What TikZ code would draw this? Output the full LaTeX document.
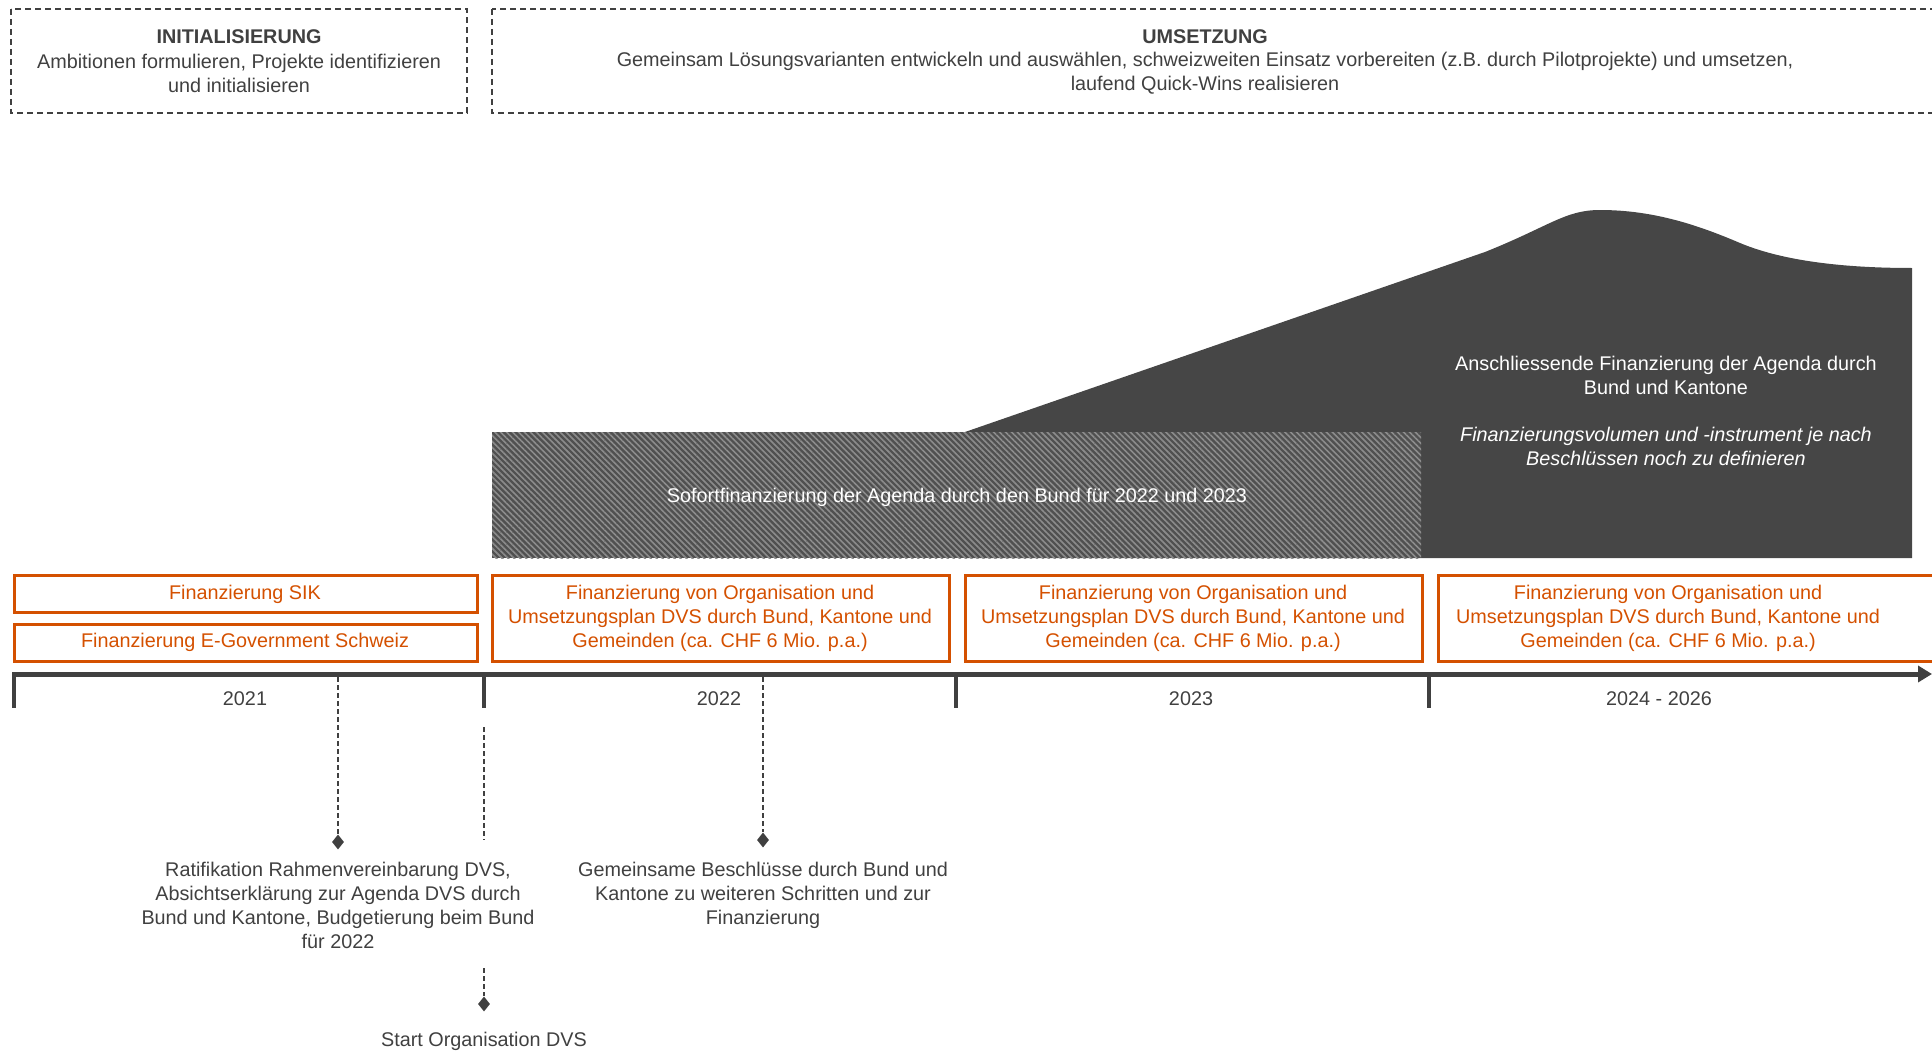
\documentclass[tikz,border=0pt]{standalone}
\usepackage{fontspec}
\setmainfont{Liberation Sans}
\usetikzlibrary{patterns.meta,arrows.meta,shapes.geometric}
\definecolor{txt}{RGB}{64,64,64}
\definecolor{org}{RGB}{212,80,0}
\definecolor{darkfill}{RGB}{70,70,70}
\definecolor{hatchbg}{RGB}{80,80,80}
\definecolor{hatchln}{RGB}{140,140,140}
\newcommand{\fsz}{\fontsize{19.8}{24}\selectfont}
\tikzset{
  phasebox/.style={draw=txt, line width=1.3pt, dash pattern=on 6pt off 4pt},
  lbl/.style={font=\fsz, text=txt, align=center, inner sep=0pt},
  wlbl/.style={font=\fsz, text=white, align=center, inner sep=0pt},
  olbl/.style={font=\fsz, text=org, align=center, inner sep=0pt},
  obox/.style={draw=org, line width=3pt},
  tick/.style={draw=txt, line width=4pt},
  conn/.style={draw=txt, line width=1.5pt, dash pattern=on 5pt off 3pt},
  dmark/.style={diamond, fill=txt, inner sep=0pt, minimum width=12pt, minimum height=15pt},
}
\begin{document}
\begin{tikzpicture}[x=1pt,y=-1pt]
\useasboundingbox (0,0) rectangle (1932,1054);
\clip (0,0) rectangle (1932,1054);

% phase boxes
\draw[phasebox] (11,9) rectangle (467,113);
\draw[phasebox] (492,9) rectangle (1940,113);
\node[lbl, font=\fsz\bfseries] (initT) at (239,37) {INITIALISIERUNG};
\node[lbl] (initD) at (239,73) {Ambitionen formulieren, Projekte identifizieren\\und initialisieren};
\node[lbl, font=\fsz\bfseries] (umsT) at (1205,37) {UMSETZUNG};
\node[lbl] (umsD) at (1205,73) {Gemeinsam Lösungsvarianten entwickeln und auswählen, schweizweiten Einsatz vorbereiten (z.B. durch Pilotprojekte) und umsetzen,\\laufend Quick-Wins realisieren};

% dark financing shape
\fill[darkfill] (965,432) -- (1485,252)
  .. controls (1550,226) and (1565,210) .. (1600,210)
  .. controls (1655,210) and (1700,226) .. (1740,243)
  .. controls (1790,264) and (1860,268) .. (1912,268)
  -- (1912,558) -- (965,558) -- cycle;
% hatched immediate financing
\fill[hatchbg] (492,432) rectangle (1421,558);
\fill[pattern={Lines[angle=135,distance=4.2pt,line width=1.6pt]}, pattern color=hatchln] (492,432) rectangle (1421,558);

\node[wlbl] (sofort) at (957,497) {Sofortfinanzierung der Agenda durch den Bund für 2022 und 2023};
\node[wlbl] (ansch) at (1666,375) {Anschliessende Finanzierung der Agenda durch\\Bund und Kantone};
\node[wlbl, font=\fsz\itshape] (volumen) at (1666,446) {Finanzierungsvolumen und -instrument je nach\\Beschlüssen noch zu definieren};

% orange boxes
\draw[obox] (14,575) rectangle (477,612);
\node[olbl] (sik) at (245,594) {Finanzierung SIK};
\draw[obox] (14,624) rectangle (477,661);
\node[olbl] (egov) at (245,642) {Finanzierung E-Government Schweiz};
\draw[obox] (492,575) rectangle (949,661);
\node[olbl] (f22) at (720,618) {Finanzierung von Organisation und\\Umsetzungsplan DVS durch Bund, Kantone und\\Gemeinden (ca. CHF 6 Mio. p.a.)};
\draw[obox] (965,575) rectangle (1422,661);
\node[olbl] (f23) at (1193,618) {Finanzierung von Organisation und\\Umsetzungsplan DVS durch Bund, Kantone und\\Gemeinden (ca. CHF 6 Mio. p.a.)};
\draw[obox] (1438,575) rectangle (1945,661);
\node[olbl] (f24) at (1668,618) {Finanzierung von Organisation und\\Umsetzungsplan DVS durch Bund, Kantone und\\Gemeinden (ca. CHF 6 Mio. p.a.)};

% timeline
\coordinate (tl0) at (12,674);
\coordinate (tlE) at (1932,674);
\draw[draw=txt, line width=5pt, -{Triangle[length=14pt,width=16pt]}] (tl0) -- (tlE);
\foreach \x in {14,484,956,1429} { \draw[tick] (\x,672) -- (\x,708); }
\node[lbl] (y21) at (245,699) {2021};
\node[lbl] (y22) at (719,699) {2022};
\node[lbl] (y23) at (1191,699) {2023};
\node[lbl] (y24) at (1659,699) {2024 - 2026};

% milestones
\coordinate (m1a) at (338,677);
\node[dmark] (m1) at (338,842) {};
\draw[conn] (m1a) -- (m1.north);
\node[lbl] (m1t) at (338,905) {Ratifikation Rahmenvereinbarung DVS,\\Absichtserklärung zur Agenda DVS durch\\Bund und Kantone, Budgetierung beim Bund\\für 2022};

\coordinate (m2a) at (763,677);
\node[dmark] (m2) at (763,840) {};
\draw[conn] (m2a) -- (m2.north);
\node[lbl] (m2t) at (763,895) {Gemeinsame Beschlüsse durch Bund und\\Kantone zu weiteren Schritten und zur\\Finanzierung};

\coordinate (m3a) at (484,727);
\coordinate (m3b) at (484,840);
\draw[conn] (m3a) -- (m3b);
\coordinate (m4a) at (484,968);
\node[dmark] (m4) at (484,1004) {};
\draw[conn] (m4a) -- (m4.north);
\node[lbl] (m4t) at (484,1041) {Start Organisation DVS};
\end{tikzpicture}
\end{document}
